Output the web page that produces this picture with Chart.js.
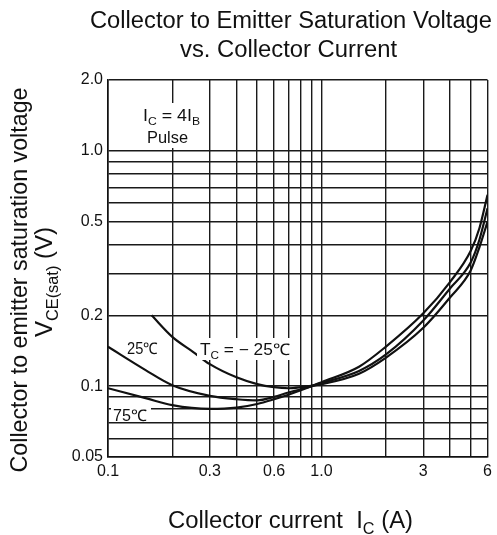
<!DOCTYPE html>
<html>
<head>
<meta charset="utf-8">
<script src="https://cdn.jsdelivr.net/npm/chart.js@4/dist/chart.umd.min.js"></script>
<style>
  html,body{margin:0;padding:0;background:#fff;}
  #wrap{width:497px;height:535px;position:relative;}
</style>
</head>
<body>
<div id="wrap"><canvas id="c"></canvas></div>
<script>
// ---- data ----
const xTicks = [0.1,0.2,0.3,0.4,0.5,0.6,0.7,0.8,0.9,1,2,3,4,5,6];
const xTickLabels = {0.1:'0.1',0.3:'0.3',0.6:'0.6',1:'1.0',3:'3',6:'6'};
const yTicks = [0.05,0.06,0.07,0.08,0.09,0.1,0.2,0.3,0.4,0.5,0.6,0.7,0.8,0.9,1,2];
const yTickLabels = {0.05:'0.05',0.1:'0.1',0.2:'0.2',0.5:'0.5',1:'1.0',2:'2.0'};

const icM25  = [0.16,0.2,0.25,0.3,0.4,0.5,0.6,0.7,0.8,1.0,1.5,2,3,4,5,5.5,6];
const vceM25 = [0.2,0.162,0.14,0.124,0.109,0.102,0.099,0.098,0.099,0.102,0.113,0.132,0.177,0.238,0.31,0.39,0.5];

const ic25   = [0.1,0.15,0.2,0.3,0.4,0.5,0.6,0.7,0.8,1.0,1.5,2,3,4,5,5.5,6];
const vce25  = [0.147,0.117,0.101,0.091,0.088,0.087,0.09,0.094,0.097,0.103,0.116,0.136,0.19,0.26,0.335,0.42,0.57];

const ic75   = [0.1,0.15,0.2,0.3,0.4,0.5,0.6,0.7,0.8,1.0,1.5,2,3,4,5,5.5,6];
const vce75  = [0.098,0.089,0.083,0.08,0.081,0.084,0.088,0.092,0.096,0.104,0.121,0.147,0.204,0.277,0.375,0.47,0.65];

const FONT = '"Liberation Sans", Arial, Helvetica, sans-serif';
const toPts = (xs, ys) => xs.map((x,i)=>({x:x, y:ys[i]}));

function drawRich(ctx, parts, o){
  ctx.save();
  ctx.translate(o.x, o.y);
  if (o.rot) ctx.rotate(-Math.PI/2);
  let widths = parts.map(p=>{
    ctx.font = (p.sub ? o.size*0.68 : o.size) + 'px ' + FONT;
    return ctx.measureText(p.t).width;
  });
  const natural = widths.reduce((a,b)=>a+b,0);
  const s = o.width ? o.width/natural : 1;
  ctx.scale(s,1);
  let x = o.align==='center' ? -natural/2 : 0;
  ctx.fillStyle = '#111';
  ctx.textBaseline = 'alphabetic';
  ctx.textAlign = 'left';
  parts.forEach((p,i)=>{
    ctx.font = (p.sub ? o.size*0.68 : o.size) + 'px ' + FONT;
    ctx.fillText(p.t, x, p.sub ? o.size*0.28 : 0);
    x += widths[i];
  });
  ctx.restore();
}

const textPlugin = {
  id:'texts',
  afterDatasetsDraw(chart){
    const ctx = chart.ctx;
    ctx.save();
    ctx.fillStyle = '#fff';
    ctx.fillRect(140,103,64,45);
    ctx.fillRect(197,338,96,22);
    ctx.fillRect(111,404,40,18);
    ctx.restore();
    drawRich(ctx,[{t:'I'},{t:'C',sub:true},{t:' = 4I'},{t:'B',sub:true}],{x:143,y:121,size:16,width:57});
    drawRich(ctx,[{t:'Pulse'}],{x:147,y:143,size:16,width:41});
    drawRich(ctx,[{t:'25℃'}],{x:127,y:354,size:16,width:31});
    drawRich(ctx,[{t:'T'},{t:'C',sub:true},{t:' = − 25℃'}],{x:200,y:355,size:16,width:90});
    drawRich(ctx,[{t:'75℃'}],{x:113,y:421,size:16,width:34});
  },
  afterDraw(chart){
    const ctx = chart.ctx;
    drawRich(ctx,[{t:'Collector to Emitter Saturation Voltage'}],{x:291,y:28,size:23,width:402,align:'center'});
    drawRich(ctx,[{t:'vs. Collector Current'}],{x:288.5,y:57,size:23,width:217,align:'center'});
    drawRich(ctx,[{t:'Collector to emitter saturation voltage'}],{x:27,y:280,size:24,width:385,align:'center',rot:true});
    drawRich(ctx,[{t:'V'},{t:'CE(sat)',sub:true},{t:' (V)'}],{x:52,y:282,size:23,width:110,align:'center',rot:true});
    drawRich(ctx,[{t:'Collector current  I'},{t:'C',sub:true},{t:' (A)'}],{x:290.5,y:528,size:23,width:245,align:'center'});
  }
};

const lineDs = (pts) => ({
  data: pts, borderColor:'#111', borderWidth:2.2, pointRadius:0,
  showLine:true, fill:false, cubicInterpolationMode:'monotone'
});

new Chart(document.getElementById('c'), {
  type:'scatter',
  data:{ datasets:[
    lineDs(toPts(icM25, vceM25)),
    lineDs(toPts(ic25, vce25)),
    lineDs(toPts(ic75, vce75))
  ]},
  options:{
    responsive:true, maintainAspectRatio:false, animation:false,
    devicePixelRatio:1,
    layout:{padding:{left:0,top:80,right:5,bottom:0}},
    plugins:{legend:{display:false}, tooltip:{enabled:false}, title:{display:false}},
    scales:{
      x:{
        type:'logarithmic', min:0.1, max:6,
        afterBuildTicks(s){ s.ticks = xTicks.map(v=>({value:v})); },
        afterFit(s){ s.height = 78; },
        grid:{color:'#1a1a1a', lineWidth:1.4, drawTicks:false},
        border:{display:true, color:'#111', width:1.6},
        ticks:{
          autoSkip:false, maxRotation:0, padding:5, color:'#111',
          font:{family:FONT, size:16},
          callback(v){ const k = +(+v).toPrecision(3); return xTickLabels[k] || ''; }
        }
      },
      y:{
        type:'logarithmic', min:0.05, max:2,
        afterBuildTicks(s){ s.ticks = yTicks.map(v=>({value:v})); },
        afterFit(s){ s.width = 108; },
        grid:{color:'#1a1a1a', lineWidth:1.4, drawTicks:false},
        border:{display:true, color:'#111', width:1.6},
        ticks:{
          autoSkip:false, padding:5, color:'#111',
          font:{family:FONT, size:16},
          callback(v){ const k = +(+v).toPrecision(3); return yTickLabels[k] || ''; }
        }
      }
    }
  },
  plugins:[textPlugin]
});
</script>
</body>
</html>
